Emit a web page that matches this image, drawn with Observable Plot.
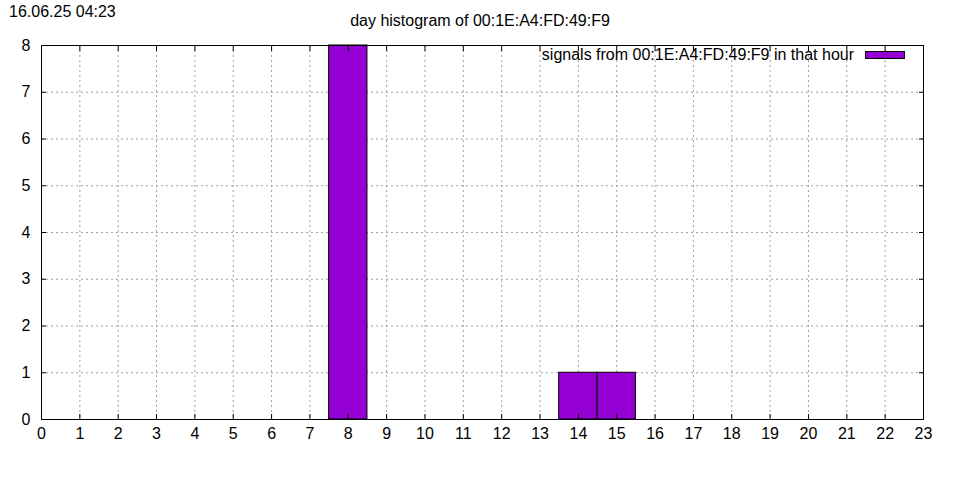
<!DOCTYPE html>
<html>
<head>
<meta charset="utf-8">
<script src="https://cdn.jsdelivr.net/npm/d3@7"></script>
<script src="https://cdn.jsdelivr.net/npm/@observablehq/plot@0.6"></script>
<style>
  html, body { margin: 0; padding: 0; background: #fff; }
  #wrap { position: relative; width: 960px; height: 480px; font-family: "Liberation Sans", Arial, sans-serif; color: #000; }
  #wrap svg { position: absolute; left: 0; top: 0; }
  .lbl { position: absolute; white-space: nowrap; font-size: 16px; line-height: 1; }
  #date { left: 9px; top: 4px; }
  #title { left: 0; width: 960px; text-align: center; top: 13px; }
  #legend { right: 55px; top: 47px; display: flex; align-items: center; gap: 11px; }
  #legend .sw { width: 38px; height: 6px; background: #9400d3; border: 1px solid #000; }
</style>
</head>
<body>
<div id="wrap">
  <div class="lbl" id="date"></div>
  <div class="lbl" id="title"></div>
  <div class="lbl" id="legend"><span id="legtext"></span><span class="sw"></span></div>
</div>
<script>
const dateLabel = "16.06.25 04:23";
const titleText = "day histogram of 00:1E:A4:FD:49:F9";
const seriesName = "signals from 00:1E:A4:FD:49:F9 in that hour";
const hours = [0,1,2,3,4,5,6,7,8,9,10,11,12,13,14,15,16,17,18,19,20,21,22,23];
const counts = [0,0,0,0,0,0,0,0,8,0,0,0,0,0,1,1,0,0,0,0,0,0,0,0];
const xTicks = [0,1,2,3,4,5,6,7,8,9,10,11,12,13,14,15,16,17,18,19,20,21,22,23];
const yTicks = [0,1,2,3,4,5,6,7,8];
const barColor = "#9400d3";

document.getElementById("date").textContent = dateLabel;
document.getElementById("title").textContent = titleText;
document.getElementById("legtext").textContent = seriesName;

const data = hours.map((h, i) => ({hour: h, count: counts[i]})).filter(d => d.count > 0);
const gridStyle = {stroke: "#a0a0a0", strokeOpacity: 1, strokeWidth: 1, strokeDasharray: "2,3"};

const chart = Plot.plot({
  width: 960,
  height: 480,
  marginLeft: 41,
  marginRight: 37,
  marginTop: 45,
  marginBottom: 61,
  style: {fontFamily: "'Liberation Sans', Arial, sans-serif", fontSize: "16px", color: "#000", background: "transparent"},
  x: {domain: [0, 23], label: null},
  y: {domain: [0, 8], label: null},
  marks: [
    Plot.ruleX(xTicks.slice(1, -1), gridStyle),
    Plot.ruleY(yTicks.slice(1, -1), gridStyle),
    Plot.rectY(data, {x1: d => d.hour - 0.5, x2: d => d.hour + 0.5, y1: 0, y2: "count", fill: barColor, stroke: "#000", strokeWidth: 1}),
    Plot.axisX(xTicks, {tickSize: 5, dy: -5, text: null, label: null, stroke: "#000"}),
    Plot.axisX(xTicks, {anchor: "top", tickSize: 5, dy: 5, text: null, label: null, stroke: "#000"}),
    Plot.axisY(yTicks, {tickSize: 5, dx: 5, text: null, label: null, stroke: "#000"}),
    Plot.axisY(yTicks, {anchor: "right", tickSize: 5, dx: -5, text: null, label: null, stroke: "#000"}),
    Plot.axisX(xTicks, {tickSize: 0, tickPadding: 8, label: null, fontSize: 16, fill: "#000"}),
    Plot.axisY(yTicks, {tickSize: 0, tickPadding: 11, label: null, fontSize: 16, fill: "#000"}),
    Plot.frame({stroke: "#000", strokeWidth: 1})
  ]
});
document.getElementById("wrap").prepend(chart);
</script>
</body>
</html>
